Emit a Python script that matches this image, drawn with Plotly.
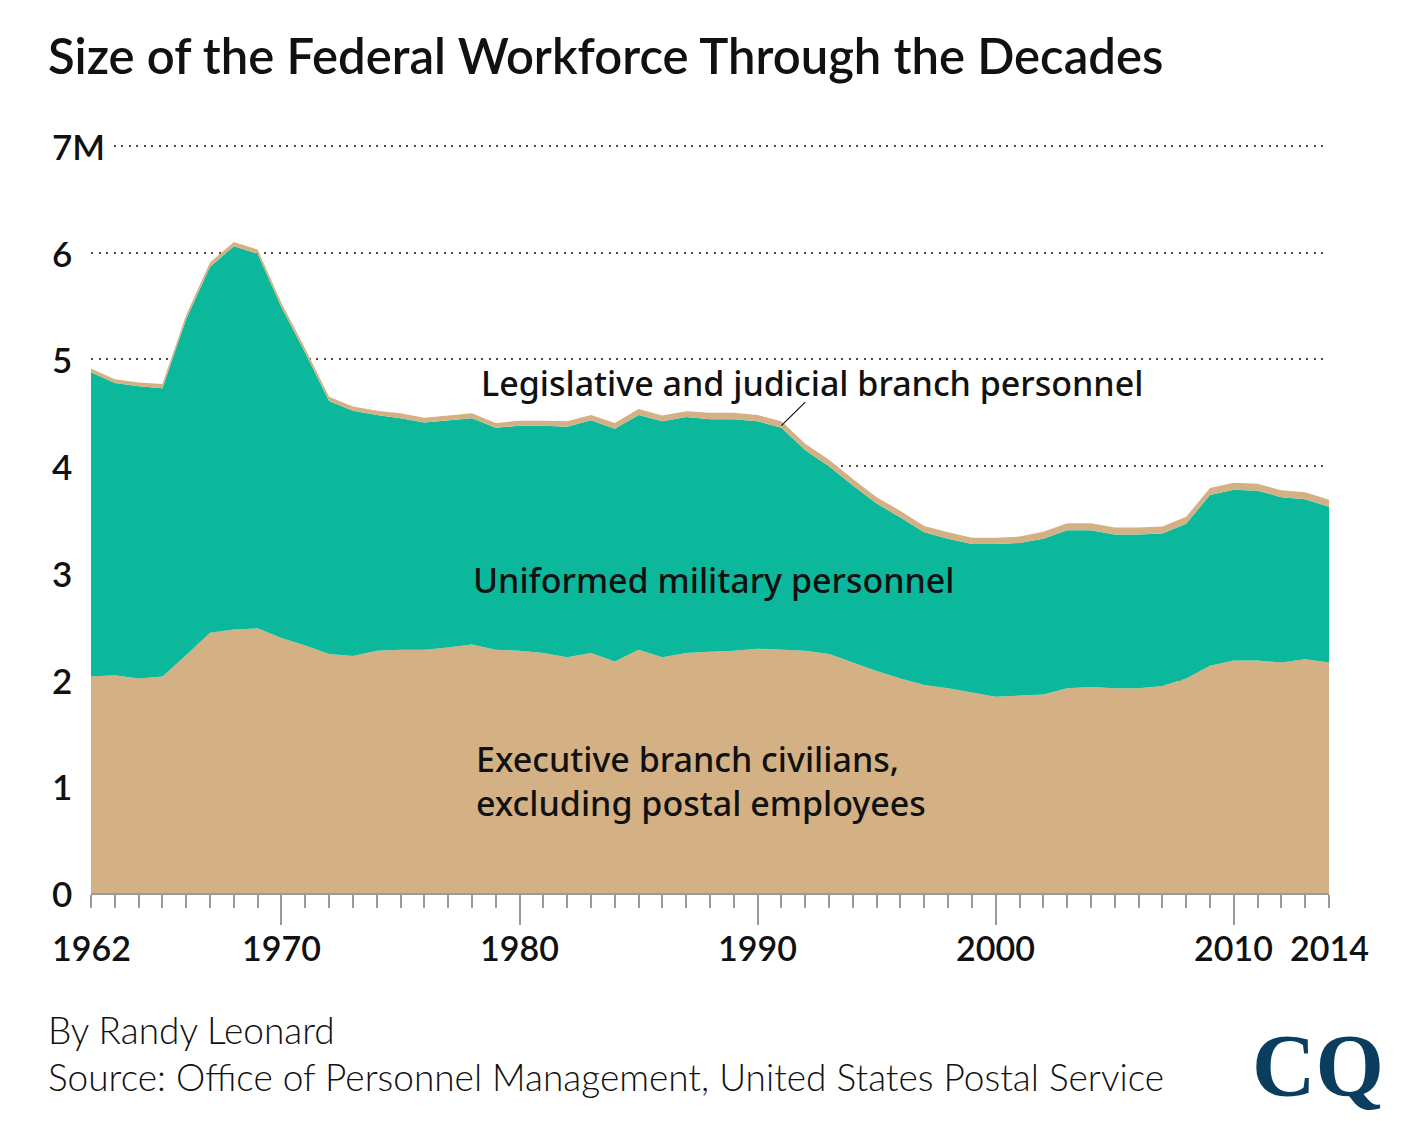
import plotly.graph_objects as go

years = list(range(1962, 2015))

executive = [2.03, 2.04, 2.01, 2.03, 2.23, 2.44, 2.47, 2.48, 2.39, 2.32,
             2.24, 2.22, 2.27, 2.28, 2.28, 2.30, 2.33, 2.28, 2.27, 2.25,
             2.21, 2.25, 2.17, 2.28, 2.21, 2.25, 2.26, 2.27, 2.29, 2.28,
             2.27, 2.24, 2.16, 2.08, 2.01, 1.95, 1.92, 1.88, 1.84, 1.85,
             1.86, 1.92, 1.93, 1.92, 1.92, 1.94, 2.01, 2.13, 2.18, 2.18,
             2.16, 2.19, 2.16]

military = [2.85, 2.74, 2.74, 2.70, 3.15, 3.43, 3.59, 3.51, 3.10, 2.74,
            2.37, 2.30, 2.21, 2.17, 2.13, 2.13, 2.12, 2.08, 2.11, 2.13,
            2.16, 2.18, 2.18, 2.20, 2.21, 2.21, 2.18, 2.17, 2.13, 2.08,
            1.88, 1.76, 1.66, 1.57, 1.51, 1.43, 1.40, 1.39, 1.43, 1.43,
            1.46, 1.48, 1.47, 1.44, 1.44, 1.43, 1.45, 1.60, 1.60, 1.59,
            1.55, 1.50, 1.46]

legislative_judicial = [0.035, 0.035, 0.035, 0.04, 0.04, 0.04, 0.04, 0.04, 0.04, 0.04,
                        0.04, 0.04, 0.04, 0.045, 0.045, 0.045, 0.045, 0.045, 0.045, 0.045,
                        0.05, 0.05, 0.055, 0.055, 0.055, 0.055, 0.06, 0.06, 0.06, 0.06,
                        0.06, 0.06, 0.06, 0.06, 0.06, 0.06, 0.06, 0.06, 0.06, 0.06,
                        0.065, 0.065, 0.065, 0.065, 0.065, 0.065, 0.065, 0.065, 0.065, 0.065,
                        0.065, 0.065, 0.065]

x_label_years = [1962, 1970, 1980, 1990, 2000, 2010, 2014]
decade_ticks = [1970, 1980, 1990, 2000, 2010]
y_ticks = [0, 1, 2, 3, 4, 5, 6, 7]
y_tick_text = ["0", "1", "2", "3", "4", "5", "6", "7M"]

TAN = "#D4B184"
TEAL = "#0BB89C"
GRAY = "#9A9A9A"
LABEL_FONT = "Noto Sans"
AXIS_FONT = "Lato"

fig = go.Figure()
for name, vals, color in [("Executive", executive, TAN),
                          ("Military", military, TEAL),
                          ("Legislative", legislative_judicial, TAN)]:
    fig.add_trace(go.Scatter(
        x=years, y=vals, name=name, mode="lines", stackgroup="one",
        line=dict(width=0, color=color), fillcolor=color,
        hoverinfo="skip", showlegend=False))

annotations = []
for yr in x_label_years:
    annotations.append(dict(
        x=yr, y=-0.073, xref="x", yref="paper", text=str(yr), showarrow=False,
        xanchor="center", yanchor="middle",
        font=dict(family=AXIS_FONT, size=34, color="#111", weight=600)))
for v, t in zip(y_ticks, y_tick_text):
    annotations.append(dict(
        x=-0.035, y=v, xref="paper", yref="y", text=t, showarrow=False,
        xanchor="left", yanchor="middle", bgcolor="white", borderpad=3,
        font=dict(family=AXIS_FONT, size=35, color="#111", weight=600)))

label_font = dict(family=LABEL_FONT, size=34, color="#111", weight=500)
annotations += [
    dict(x=1978.07, y=1.054, xref="x", yref="y",
         text="Executive branch civilians,<br>excluding postal employees",
         showarrow=False, xanchor="left", yanchor="middle", align="left",
         font=label_font),
    dict(x=1977.95, y=2.93, xref="x", yref="y",
         text="Uniformed military personnel",
         showarrow=False, xanchor="left", yanchor="middle", font=label_font),
    dict(x=1978.3, y=4.78, xref="x", yref="y",
         text="Legislative and judicial branch personnel",
         showarrow=False, xanchor="left", yanchor="middle", font=label_font),
    dict(x=-0.036, y=1.12, xref="paper", yref="paper",
         text="Size of the Federal Workforce Through the Decades",
         showarrow=False, xanchor="left", yanchor="middle",
         font=dict(family=AXIS_FONT, size=49, color="#111", weight=600)),
    dict(x=-0.036, y=-0.183, xref="paper", yref="paper",
         text="By Randy Leonard", showarrow=False, xanchor="left", yanchor="middle",
         font=dict(family=AXIS_FONT, size=37, color="#111", weight=300)),
    dict(x=-0.036, y=-0.245, xref="paper", yref="paper",
         text="Source: Office of Personnel Management, United States Postal Service",
         showarrow=False, xanchor="left", yanchor="middle",
         font=dict(family=AXIS_FONT, size=37, color="#111", weight=300)),
    dict(x=1.046, y=-0.23, xref="paper", yref="paper",
         text="CQ", showarrow=False, xanchor="right", yanchor="middle",
         font=dict(family="Liberation Serif", size=88, color="#0B3D5E", weight=700)),
]

fig.update_layout(
    width=1402, height=1121,
    margin=dict(l=91, r=73, t=145, b=228, pad=0),
    paper_bgcolor="white", plot_bgcolor="white",
    annotations=annotations,
    shapes=[dict(type="line", xref="x", yref="y", x0=1991.0, y0=4.38,
                 x1=1992.0, y1=4.6, line=dict(color="#111", width=1.2))],
    xaxis=dict(range=[1962, 2014], showgrid=False, zeroline=False,
               showline=True, linecolor=GRAY, linewidth=2,
               tickmode="array", tickvals=decade_ticks, ticks="outside",
               ticklen=30, tickwidth=2, tickcolor=GRAY, showticklabels=False,
               minor=dict(tickmode="array", tickvals=years, ticks="outside",
                          ticklen=13, tickwidth=2, tickcolor=GRAY, showgrid=False)),
    yaxis=dict(range=[0, 7.01], tickmode="array", tickvals=y_ticks,
               showticklabels=False, ticks="", zeroline=False, showline=False,
               showgrid=True, gridcolor="#4a4a4a", gridwidth=2, griddash="2px,5.5px"),
)

fig.write_html("out.html", config={"displayModeBar": False},
               post_script="document.body.style.margin='0';")
